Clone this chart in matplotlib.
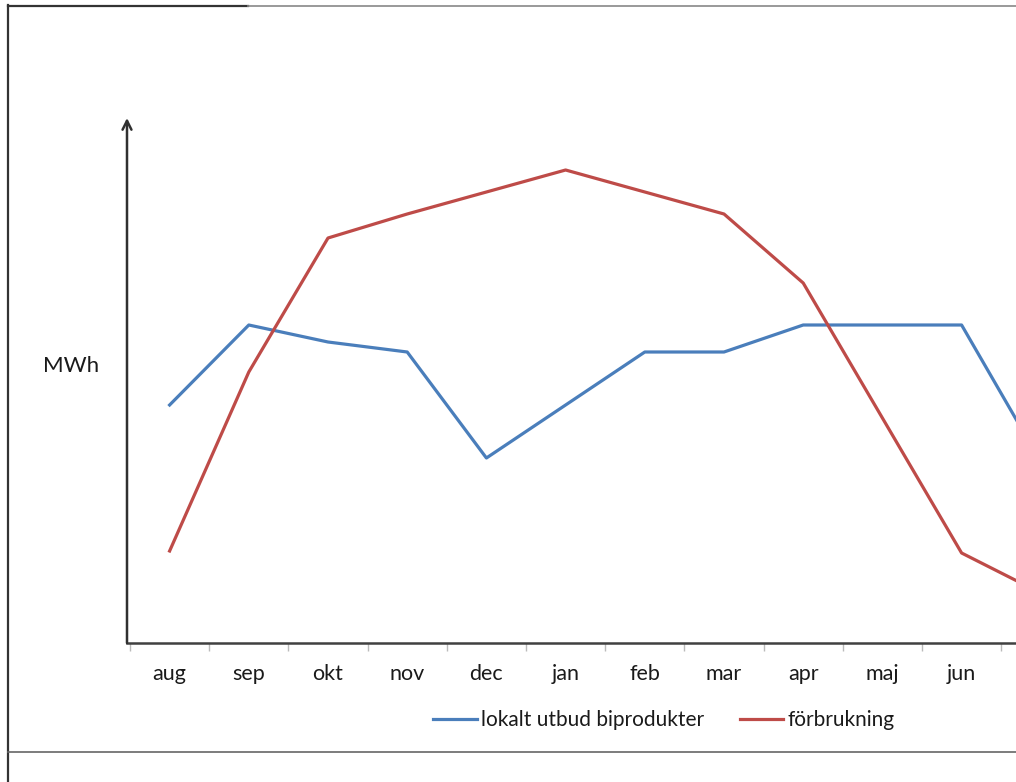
import matplotlib.pyplot as plt
from matplotlib.lines import Line2D

months = ['aug', 'sep', 'okt', 'nov', 'dec', 'jan', 'feb', 'mar', 'apr', 'maj', 'jun', 'jul']
utbud = [238, 318, 301, 291, 185, 238, 291, 291, 318, 318, 318, 181]
forbrukning = [92, 271, 405, 429, 451, 473, 451, 429, 360, 225, 90, 50]

plt.rcParams['font.family'] = ['Lato', 'DejaVu Sans']

W, H = 1016, 782
fig = plt.figure(figsize=(W / 100, H / 100), dpi=100)

# axes reaches past the right edge, the picture is cut there
ax = fig.add_axes([127 / W, 1 - 643 / H, (1080.4 - 127) / W, 525 / H])
x = list(range(len(months)))
ax.plot(x, utbud, color='#4A7EBB', lw=2.3, label='lokalt utbud biprodukter', clip_on=False)
ax.plot(x, forbrukning, color='#BE4B48', lw=2.3, label='förbrukning', clip_on=False)

ax.set_xlim(-0.538, 11.5)
ax.set_ylim(0, 525)
for s in ['top', 'right', 'left']:
    ax.spines[s].set_visible(False)
ax.spines['bottom'].set_color('#404040')
ax.spines['bottom'].set_linewidth(1.8)
ax.set_yticks([])

ax.set_xticks(x)
ax.set_xticklabels(months, fontsize=15.5, color='#1a1a1a')
ax.get_xticklabels()[-1].set_visible(False)  # jul lies outside the cut picture
ax.tick_params(axis='x', which='major', length=0, pad=15)
ax.set_xticks([i - 0.5 for i in range(len(months) + 1)], minor=True)
ax.tick_params(axis='x', which='minor', length=6, color='#bbbbbb', width=1)

# y axis as an arrow
ax.annotate('', xy=(-0.538, 525), xytext=(-0.538, 0), xycoords='data',
            arrowprops=dict(arrowstyle='->', color='#303030', lw=1.8,
                            mutation_scale=16, shrinkA=0, shrinkB=0),
            annotation_clip=False)

fig.text(71 / W, 1 - 366 / H, 'MWh', fontsize=16, color='#1a1a1a', ha='center', va='center')

fig.legend(loc='center', bbox_to_anchor=(664 / W, 1 - 720 / H), ncol=2, frameon=False,
           fontsize=15, handlelength=2.1, handletextpad=0.2, columnspacing=1.7,
           labelcolor='#1a1a1a')

# outer frame of the original chart
fig.add_artist(Line2D([8 / W, 248 / W], [1 - 5.5 / H, 1 - 5.5 / H], color='#333333', lw=1.6))
fig.add_artist(Line2D([248 / W, 1], [1 - 5.5 / H, 1 - 5.5 / H], color='#888888', lw=1.2))
fig.add_artist(Line2D([8 / W, 8 / W], [0, 1 - 5 / H], color='#333333', lw=1.6))
fig.add_artist(Line2D([8 / W, 1], [1 - 752 / H, 1 - 752 / H], color='#666666', lw=1.2))

fig.savefig('out.png', dpi=100)
